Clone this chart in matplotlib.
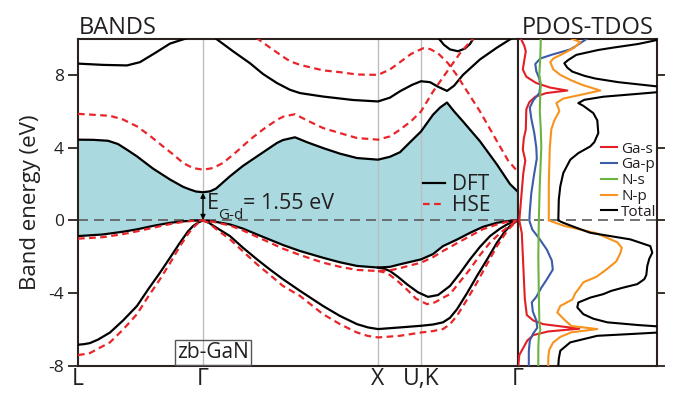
import numpy as np
import matplotlib
matplotlib.use("Agg")
import matplotlib.pyplot as plt
from matplotlib.lines import Line2D

# ============== data =============

# k-path ticks (path units)
K_TICKS = [0.0, 1.25, 3.00, 3.43, 4.40]
K_LABELS = ["L", "Γ", "X", "U,K", "Γ"]

# DFT bands
DFT_CB1_K = [0.00, 0.15, 0.30, 0.40, 0.50, 0.59, 0.75, 0.92, 1.05, 1.12, 1.18, 1.25, 1.32, 1.38, 1.52, 1.65,
             1.79, 1.99, 2.05, 2.17, 2.29, 2.45, 2.62, 2.79, 3.00, 3.12, 3.22, 3.33, 3.43, 3.55, 3.62, 3.69,
             3.76, 3.85, 4.02, 4.19, 4.32, 4.40]
DFT_CB1_E = [4.44, 4.43, 4.38, 4.20, 3.85, 3.52, 2.85, 2.25, 1.85, 1.70, 1.59, 1.55, 1.60, 1.75, 2.43, 3.00,
             3.52, 4.26, 4.42, 4.57, 4.30, 3.98, 3.67, 3.43, 3.34, 3.50, 3.75, 4.35, 4.89, 5.81, 6.20, 6.48,
             6.00, 5.44, 4.35, 3.07, 2.00, 1.57]

DFT_CB2_K = [0.00, 0.25, 0.49, 0.62, 0.77, 0.92, 1.09, 1.25, 1.39, 1.55, 1.72, 1.85, 1.99, 2.12, 2.22, 2.45,
             2.75, 3.00, 3.12, 3.22, 3.34, 3.43, 3.52, 3.60, 3.69, 3.76, 3.85, 4.02, 4.19, 4.34, 4.40]
DFT_CB2_E = [8.62, 8.55, 8.52, 8.70, 9.20, 9.72, 10.02, 10.50, 9.95, 9.30, 8.64, 8.05, 7.55, 7.18, 7.00, 6.81,
             6.62, 6.54, 6.75, 7.10, 7.45, 7.65, 7.60, 7.35, 7.12, 7.40, 8.00, 8.85, 9.50, 10.02, 10.30]

DFT_CB3_K = [3.60, 3.66, 3.72, 3.80, 3.87, 3.92, 3.96]
DFT_CB3_E = [10.05, 9.65, 9.40, 9.30, 9.45, 9.70, 10.05]

DFT_VB1_K = [0.00, 0.25, 0.45, 0.59, 0.75, 0.92, 1.05, 1.15, 1.25, 1.35, 1.52, 1.65, 1.79, 2.05, 2.22, 2.45,
             2.62, 2.79, 3.00, 3.12, 3.22, 3.43, 3.55, 3.65, 3.79, 3.92, 4.05, 4.19, 4.30, 4.40]
DFT_VB1_E = [-0.86, -0.77, -0.62, -0.49, -0.30, -0.13, -0.05, -0.01, 0.00, -0.05, -0.22, -0.45, -0.77, -1.35,
             -1.68, -2.05, -2.30, -2.50, -2.59, -2.55, -2.41, -2.14, -1.85, -1.41, -1.05, -0.68, -0.35, -0.13,
             -0.03, 0.00]

DFT_VB2_K = [3.00, 3.06, 3.12, 3.20, 3.29, 3.40, 3.50, 3.60, 3.72, 3.82, 3.92, 4.02, 4.12, 4.22, 4.29, 4.35,
             4.40]
DFT_VB2_E = [-2.59, -2.65, -2.78, -3.10, -3.51, -3.95, -4.20, -4.10, -3.60, -2.90, -2.14, -1.45, -0.86, -0.45,
             -0.22, -0.08, 0.00]

DFT_VB3_K = [0.00, 0.06, 0.12, 0.20, 0.32, 0.45, 0.59, 0.70, 0.82, 0.92, 1.02, 1.10, 1.15, 1.20, 1.25, 1.30,
             1.40, 1.52, 1.65, 1.79, 1.92, 2.05, 2.22, 2.45, 2.62, 2.79, 2.90, 3.00, 3.22, 3.43, 3.55, 3.65,
             3.72, 3.79, 3.89, 3.99, 4.09, 4.19, 4.27, 4.32, 4.37, 4.40]
DFT_VB3_E = [-6.83, -6.80, -6.74, -6.55, -6.16, -5.50, -4.70, -3.80, -2.87, -2.05, -1.22, -0.60, -0.31, -0.12,
             0.00, -0.10, -0.45, -0.86, -1.50, -2.14, -2.70, -3.23, -3.87, -4.70, -5.25, -5.70, -5.88, -5.97,
             -5.88, -5.79, -5.72, -5.60, -5.35, -4.88, -4.00, -3.05, -2.15, -1.22, -0.60, -0.31, -0.10, 0.00]

# HSE bands
HSE_CB1_K = [0.00, 0.32, 0.45, 0.59, 0.72, 0.85, 0.97, 1.05, 1.15, 1.25, 1.35, 1.45, 1.58, 1.72, 1.85, 1.99,
             2.05, 2.17, 2.29, 2.45, 2.62, 2.79, 3.00, 3.12, 3.22, 3.33, 3.43, 3.55, 3.69, 3.82, 3.92, 3.97]
HSE_CB1_E = [5.86, 5.75, 5.55, 5.17, 4.65, 4.07, 3.55, 3.16, 2.88, 2.79, 2.88, 3.16, 3.75, 4.44, 5.00, 5.53,
             5.70, 5.84, 5.50, 5.08, 4.80, 4.53, 4.44, 4.62, 4.99, 5.45, 5.99, 7.08, 8.18, 9.19, 9.82, 10.10]

HSE_CB2_K = [1.78, 1.92, 2.05, 2.12, 2.22, 2.32, 2.45, 2.62, 2.79, 3.00, 3.12, 3.22, 3.33, 3.45, 3.52, 3.60,
             3.70, 3.78, 3.85, 4.02, 4.19, 4.30, 4.37, 4.40]
HSE_CB2_E = [10.05, 9.50, 9.00, 8.75, 8.55, 8.42, 8.25, 8.15, 8.02, 8.00, 8.30, 8.70, 9.15, 9.46, 9.42, 9.19,
             8.64, 8.05, 7.45, 5.99, 4.35, 3.30, 2.85, 2.79]

HSE_VB1_K = DFT_VB1_K
HSE_VB1_E = [-1.00, -0.92, -0.75, -0.60, -0.40, -0.20, -0.08, -0.02, 0.00, -0.07, -0.28, -0.55, -0.90, -1.55,
             -1.90, -2.32, -2.55, -2.72, -2.78, -2.74, -2.62, -2.32, -2.02, -1.68, -1.25, -0.86, -0.48, -0.22,
             -0.06, 0.00]

HSE_VB2_K = [3.00, 3.06, 3.12, 3.20, 3.29, 3.38, 3.49, 3.57, 3.65, 3.72, 3.80, 3.92, 4.02, 4.12, 4.22, 4.29,
             4.35, 4.40]
HSE_VB2_E = [-2.78, -2.85, -3.00, -3.35, -3.80, -4.30, -4.60, -4.50, -4.25, -4.05, -3.50, -2.68, -1.90, -1.22,
             -0.70, -0.40, -0.15, 0.00]

HSE_VB3_K = DFT_VB3_K
HSE_VB3_E = [-7.40, -7.35, -7.29, -7.05, -6.70, -6.00, -5.15, -4.20, -3.23, -2.35, -1.41, -0.75, -0.40, -0.15,
             0.00, -0.12, -0.55, -1.04, -1.70, -2.41, -3.00, -3.60, -4.15, -5.15, -5.70, -6.16, -6.35, -6.43,
             -6.34, -6.16, -6.08, -5.97, -5.70, -5.24, -4.35, -3.41, -2.40, -1.41, -0.75, -0.40, -0.12, 0.00]

# PDOS / TDOS (arbitrary units)
GA_S_E = [10.0, 9.6, 9.3, 8.8, 8.3, 7.9, 7.55, 7.3, 7.14, 7.0, 6.8, 6.5, 6.1, 5.0, 4.5, 3.9, 3.3, 2.6, 1.3,
          0.0, -0.7, -2.5, -4.3, -5.2, -5.5, -5.7, -5.95, -6.1, -6.3, -6.6, -7.0, -7.4, -8.0]
GA_S_D = [0.25, 0.6, 0.75, 0.6, 0.45, 0.8, 1.8, 3.2, 4.9, 2.8, 1.7, 1.1, 0.8, 0.75, 0.55, 0.45, 0.7, 0.5, 0.3,
          0.1, 0.35, 0.5, 0.65, 0.85, 1.5, 2.5, 6.1, 3.0, 1.5, 0.9, 0.5, 0.1, 0.0]

GA_P_E = [10.0, 9.6, 9.4, 9.1, 8.9, 8.6, 8.2, 7.8, 7.4, 7.0, 6.6, 6.2, 5.6, 4.8, 4.0, 3.4, 2.6, 1.5, 0.5, 0.0,
          -0.5, -1.0, -1.6, -2.2, -2.7, -3.2, -3.7, -4.2, -4.5, -5.0, -5.5, -5.9, -6.2, -6.6, -7.2, -8.0]
GA_P_D = [6.9, 5.8, 5.2, 3.3, 2.2, 1.7, 1.8, 2.1, 2.2, 2.1, 1.5, 1.15, 1.3, 1.6, 1.8, 1.85, 1.6, 1.3, 1.15, 1.1,
          1.4, 2.1, 2.85, 3.35, 3.45, 2.9, 2.3, 1.8, 1.35, 1.45, 1.8, 1.9, 1.5, 1.15, 1.05, 1.05]

N_S_E = [10.0, 9.0, 8.0, 7.5, 7.0, 6.0, 5.0, 4.0, 2.0, 0.0, -2.0, -4.0, -5.5, -6.0, -6.4, -7.0, -8.0]
N_S_D = [2.25, 2.2, 2.1, 2.25, 2.2, 2.15, 2.25, 2.3, 2.15, 2.05, 2.0, 2.05, 2.1, 2.2, 2.05, 2.0, 2.0]

N_P_E = [10.0, 9.8, 9.5, 9.2, 8.9, 8.7, 8.3, 8.0, 7.7, 7.45, 7.14, 6.9, 6.7, 6.45, 6.2, 6.0, 5.5, 5.0, 4.0,
         3.0, 2.0, 1.0, 0.0, -0.3, -0.7, -1.2, -1.5, -1.8, -2.25, -2.7, -3.1, -3.4, -3.75, -4.0, -4.35, -4.7,
         -5.06, -5.45, -5.8, -5.97, -6.15, -6.4, -6.7, -7.1, -7.5, -8.0]
N_P_D = [5.3, 6.2, 5.6, 4.6, 3.5, 3.2, 3.5, 4.2, 5.3, 6.4, 8.2, 6.2, 4.5, 3.8, 4.0, 4.1, 3.6, 3.3, 3.15,
         3.1, 3.05, 3.05, 3.05, 4.6, 7.8, 9.9, 10.35, 10.2, 9.8, 8.8, 7.8, 6.5, 6.05, 5.7, 5.4, 4.2,
         3.9, 4.6, 5.3, 7.9, 5.3, 4.2, 3.5, 3.1, 3.0, 3.0]

TOT_E = [10.0, 9.85, 9.7, 9.5, 9.37, 9.1, 8.82, 8.64, 8.4, 8.18, 7.95, 7.8, 7.6, 7.45, 7.3, 7.1, 6.96, 6.8,
         6.63, 6.45, 6.3, 5.9, 5.5, 4.8, 4.3, 4.07, 3.7, 3.34, 2.61, 1.88, 1.15, 0.0, -0.13, -0.4, -0.68,
         -1.04, -1.41, -1.77, -2.1, -2.5, -3.0, -3.23, -3.5, -3.69, -3.87, -4.05, -4.24, -4.51, -4.78, -5.15,
         -5.4, -5.6, -5.75, -5.9, -6.1, -6.25, -6.34, -6.7, -7.16, -7.6, -8.0]
TOT_D = [14.5, 13.3, 12.0, 9.5, 8.0, 5.8, 5.0, 4.6, 4.9, 5.4, 6.6, 7.7, 10.0, 12.5, 15.0, 15.0, 12.0, 8.5,
         6.6, 6.0, 6.5, 7.5, 7.9, 8.0, 7.6, 7.2, 6.0, 5.2, 4.5, 4.2, 4.05, 4.0, 4.5, 5.8, 7.2,
         11.2, 13.2, 13.4, 13.1, 12.9, 12.8, 12.6, 11.9, 10.5, 9.3, 8.5, 7.2, 6.0, 5.9, 6.5,
         7.5, 8.9, 12.0, 16.0, 16.0, 11.0, 7.9, 5.2, 4.2, 4.05, 4.0]

PDOS_SERIES = [("Ga-s", GA_S_D, GA_S_E, "#e31e24"),
               ("Ga-p", GA_P_D, GA_P_E, "#3c5ba9"),
               ("N-s", N_S_D, N_S_E, "#6cb33f"),
               ("N-p", N_P_D, N_P_E, "#f7931e"),
               ("Total", TOT_D, TOT_E, "#000000")]

# ============== style =============

TEXT_COLOR = "#231f20"
SPINE_COLOR = "#2b2220"
FILL_COLOR = "#aadadf"
HSE_COLOR = "#e8262a"
GRID_COLOR = "#bdbdbd"
ZERO_COLOR = "#5a5a5a"
BAND_LW = 1.6
HSE_DASHES = (3.0, 2.0)

plt.rcParams['font.family'] = ['Open Sans', 'DejaVu Sans']
plt.rcParams['text.color'] = TEXT_COLOR
plt.rcParams['axes.labelcolor'] = TEXT_COLOR
plt.rcParams['xtick.color'] = TEXT_COLOR
plt.rcParams['ytick.color'] = TEXT_COLOR

W, H = 673, 399
fig = plt.figure(figsize=(W / 100, H / 100), dpi=100)
bottom = 1 - 366 / H
height = (366 - 38.5) / H
ax = fig.add_axes([78 / W, bottom, 440 / W, height])
ax2 = fig.add_axes([518.3 / W, bottom, 138.4 / W, height])

# ------------- bands -------------
ax.set_xlim(0, 4.40)
ax.set_ylim(-8, 10)

# 带隙区域填充
poly_k = np.concatenate([DFT_CB1_K, DFT_VB1_K[::-1]])
poly_e = np.concatenate([DFT_CB1_E, DFT_VB1_E[::-1]])
ax.fill(poly_k, poly_e, color=FILL_COLOR, lw=0, zorder=1)

for kk in K_TICKS[1:4]:
    ax.axvline(kk, color=GRID_COLOR, lw=1.0, zorder=2)
ax.axhline(0, color=ZERO_COLOR, lw=1.2, dashes=(6, 3.6), zorder=2)

for kk, ee in [(DFT_CB1_K, DFT_CB1_E), (DFT_CB2_K, DFT_CB2_E), (DFT_CB3_K, DFT_CB3_E),
               (DFT_VB1_K, DFT_VB1_E), (DFT_VB2_K, DFT_VB2_E), (DFT_VB3_K, DFT_VB3_E)]:
    ax.plot(kk, ee, color="black", lw=BAND_LW, zorder=3, solid_joinstyle="round")

for kk, ee in [(HSE_CB1_K, HSE_CB1_E), (HSE_CB2_K, HSE_CB2_E),
               (HSE_VB1_K, HSE_VB1_E), (HSE_VB2_K, HSE_VB2_E), (HSE_VB3_K, HSE_VB3_E)]:
    ax.plot(kk, ee, color=HSE_COLOR, lw=BAND_LW, dashes=HSE_DASHES, zorder=4)

# 带隙箭头与标注
ax.annotate("", xy=(1.25, 0.03), xytext=(1.25, 1.52),
            arrowprops=dict(arrowstyle="<|-|>", color="black", lw=1.0, mutation_scale=7,
                            shrinkA=0, shrinkB=0), zorder=5)
ax.text(1.29, 0.64, "E", fontsize=15.5, va="baseline", ha="left", zorder=5)
ax.text(1.40, 0.10, "G-d", fontsize=11, va="baseline", ha="left", zorder=5)
ax.text(1.65, 0.64, "= 1.55 eV", fontsize=15.5, va="baseline", ha="left", zorder=5)

ax.text(1.35, -7.27, "zb-GaN", fontsize=15, ha="center", va="center", zorder=6,
        bbox=dict(boxstyle="square,pad=0.1", facecolor="none", edgecolor="#555555", lw=1.0))

handles = [Line2D([], [], color="black", lw=BAND_LW),
           Line2D([], [], color=HSE_COLOR, lw=BAND_LW, dashes=HSE_DASHES)]
ax.legend(handles, ["DFT", "HSE"], loc="upper left", bbox_to_anchor=(0.783, 0.585),
          frameon=False, fontsize=15, handlelength=1.1, handletextpad=0.3,
          labelspacing=0.0, borderpad=0, borderaxespad=0)

ax.set_xticks(K_TICKS)
ax.set_xticklabels(K_LABELS, fontsize=16.5)
ax.tick_params(axis="x", length=0, pad=1)
ax.set_yticks([-8, -4, 0, 4, 8])
ax.set_yticklabels(["-8", "-4", "0", "4", "8"], fontsize=12.5)
ax.tick_params(axis="y", direction="out", length=7, width=1.3, pad=3, color=SPINE_COLOR)
ax.set_ylabel("Band energy (eV)", fontsize=16, labelpad=5)
for sp in ax.spines.values():
    sp.set_color(SPINE_COLOR)
    sp.set_linewidth(1.5)

# ------------- DOS -------------
ax2.set_xlim(0, 13.84)
ax2.set_ylim(-8, 10)
ax2.axhline(0, color=ZERO_COLOR, lw=1.2, dashes=(6, 3.6), zorder=1)
for name, dd, ee, col in PDOS_SERIES:
    ax2.plot(dd, ee, color=col, lw=1.5, label=name, zorder=3)

ax2.legend(loc="upper right", bbox_to_anchor=(1.0, 0.685), frameon=False, fontsize=11,
           handlelength=1.0, handletextpad=0.3, labelspacing=0.05, borderpad=0, borderaxespad=0)

ax2.set_xticks([])
ax2.yaxis.tick_right()
ax2.set_yticks([-8, -4, 0, 4, 8])
ax2.set_yticklabels([])
ax2.tick_params(axis="y", direction="out", length=6, width=1.3, color=SPINE_COLOR)
for sp in ax2.spines.values():
    sp.set_color(SPINE_COLOR)
    sp.set_linewidth(1.5)

fig.text(79 / W, 1 - 34 / H, "BANDS", fontsize=17, ha="left", va="baseline")
fig.text(654 / W, 1 - 33.5 / H, "PDOS-TDOS", fontsize=17, ha="right", va="baseline")

plt.savefig("out.png", dpi=100)
